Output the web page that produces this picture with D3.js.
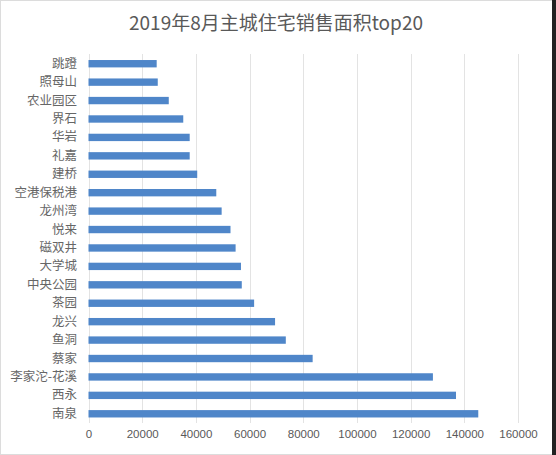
<!DOCTYPE html>
<html>
<head>
<meta charset="utf-8">
<script src="https://cdn.jsdelivr.net/npm/d3@7/dist/d3.min.js"></script>
<style>
  body { margin: 0; background: #fff; }
  svg { display: block; }
</style>
</head>
<body>
<svg id="chart"></svg>
<script>
// 2019年8月主城住宅销售面积 top20 — horizontal bars

const TITLE = '2019年8月主城住宅销售面积top20';

// top to bottom as drawn
const categories = ['跳蹬', '照母山', '农业园区', '界石', '华岩', '礼嘉', '建桥', '空港保税港', '龙州湾', '悦来',
  '磁双井', '大学城', '中央公园', '茶园', '龙兴', '鱼洞', '蔡家', '李家沱-花溪', '西永', '南泉'];
const values = [25400, 25800, 29900, 35300, 37700, 37700, 40500, 47600, 49600, 52900,
  54800, 56800, 57100, 61700, 69500, 73500, 83500, 128300, 136900, 145200];
const xTicks = [0, 20000, 40000, 60000, 80000, 100000, 120000, 140000, 160000];

const W = 556, H = 455;
const svg = d3.select('#chart').attr('width', W).attr('height', H);

// frame like the screenshot
svg.append('rect').attr('width', W).attr('height', H).attr('fill', '#fff');
svg.append('rect').attr('x', 0.5).attr('y', 0.5).attr('width', W - 1).attr('height', H - 1)
  .attr('fill', 'none').attr('stroke', '#dcdcdc');
svg.append('rect').attr('x', 552).attr('y', 0).attr('width', 4).attr('height', H).attr('fill', '#222');

const x = d3.scaleLinear().domain([0, 160000]).range([88.5, 518]);
const y = d3.scaleBand().domain(categories).range([54.5, 423]).paddingInner(0.6).paddingOuter(0.3);

// gridlines
svg.append('g')
  .selectAll('line')
  .data(xTicks)
  .join('line')
    .attr('x1', d => Math.round(x(d)) + 0.5)
    .attr('x2', d => Math.round(x(d)) + 0.5)
    .attr('y1', 54)
    .attr('y2', 423)
    .attr('stroke', '#e3e3e3')
    .attr('stroke-width', 1);

// bars
svg.append('g')
  .selectAll('rect')
  .data(categories)
  .join('rect')
    .attr('x', x(0))
    .attr('y', d => y(d))
    .attr('width', (d, i) => x(values[i]) - x(0))
    .attr('height', y.bandwidth())
    .attr('fill', '#4f86c9');

// x axis labels
const xAxis = d3.axisBottom(x).tickValues(xTicks).tickSize(0).tickPadding(0).tickFormat(d3.format('d'));
const gx = svg.append('g').attr('transform', 'translate(0,430)').call(xAxis);
gx.select('.domain').remove();
gx.selectAll('text')
  .attr('fill', '#595959')
  .attr('font-family', '"Liberation Sans", Arial, sans-serif')
  .attr('font-size', 11.5);

// category labels
const yAxis = d3.axisLeft(y).tickSize(0).tickPadding(11.5);
const gy = svg.append('g').attr('transform', `translate(${x(0)},0)`).call(yAxis);
gy.select('.domain').remove();
gy.selectAll('text')
  .attr('fill', '#666')
  .attr('font-family', '"Noto Sans CJK SC", sans-serif')
  .attr('font-size', 12.5);

// title
svg.append('text')
  .attr('x', 276)
  .attr('y', 30)
  .attr('text-anchor', 'middle')
  .attr('fill', '#595959')
  .attr('font-family', '"Noto Sans CJK SC", "Liberation Sans", sans-serif')
  .attr('font-size', 19)
  .text(TITLE);
</script>
</body>
</html>
